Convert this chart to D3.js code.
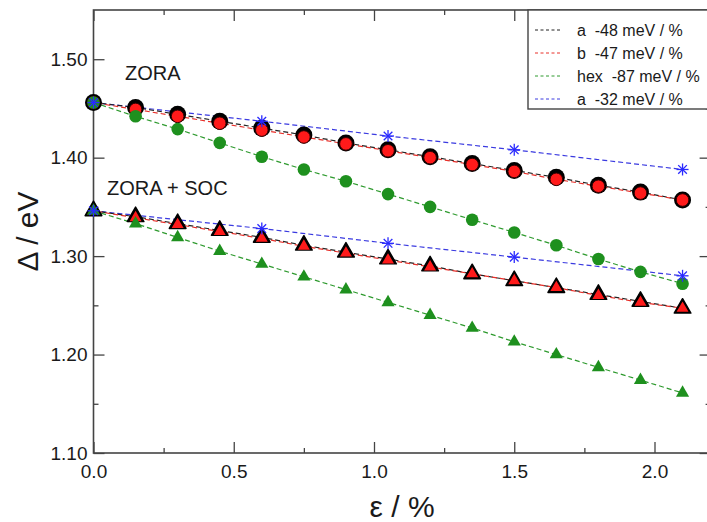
<!DOCTYPE html>
<html>
<head>
<meta charset="utf-8">
<script src="https://cdn.jsdelivr.net/npm/d3@7"></script>
<style>
  body { margin: 0; background: #fff; }
  text { font-family: "Liberation Sans", Arial, Helvetica, sans-serif; fill: #1a1a1a; }
</style>
</head>
<body>
<div id="chart"></div>
<script>
// strain values (%) for the full series
const strain = [0, 0.15, 0.3, 0.45, 0.6, 0.75, 0.9, 1.05, 1.2, 1.35, 1.5, 1.65, 1.8, 1.95, 2.1];
// strain values for the blue (a, -32) series
const starStrain = [0, 0.6, 1.05, 1.5, 2.1];

// ZORA gaps (eV)
const zoraA   = [1.456, 1.451, 1.444, 1.437, 1.430, 1.423, 1.415, 1.408, 1.401, 1.394, 1.387, 1.380, 1.372, 1.365, 1.357];
const zoraB   = [1.456, 1.449, 1.442, 1.435, 1.428, 1.421, 1.414, 1.407, 1.400, 1.393, 1.386, 1.378, 1.371, 1.364, 1.357];
const zoraHex = [1.456, 1.442, 1.429, 1.415, 1.401, 1.388, 1.376, 1.363, 1.350, 1.337, 1.324, 1.311, 1.297, 1.284, 1.272];
const zoraStar = [1.456, 1.437, 1.422, 1.408, 1.388];

// ZORA + SOC gaps (eV)
const socA   = [1.346, 1.340, 1.333, 1.326, 1.319, 1.311, 1.304, 1.297, 1.290, 1.282, 1.275, 1.268, 1.261, 1.254, 1.247];
const socB   = [1.346, 1.339, 1.332, 1.325, 1.318, 1.310, 1.303, 1.296, 1.289, 1.282, 1.275, 1.268, 1.260, 1.253, 1.247];
const socHex = [1.346, 1.333, 1.319, 1.305, 1.292, 1.279, 1.266, 1.253, 1.240, 1.227, 1.213, 1.200, 1.187, 1.174, 1.161];
const socStar = [1.346, 1.328, 1.313, 1.299, 1.280];

const legendLabels = ["a  -48 meV / %", "b  -47 meV / %", "hex  -87 meV / %", "a  -32 meV / %"];
const legendColors = ["#222222", "#e8302a", "#2e9a2e", "#3a3ae0"];

const xMajor = [0, 0.5, 1.0, 1.5, 2.0];
const xMinor = [0.25, 0.75, 1.25, 1.75];
const yMajor = [1.10, 1.20, 1.30, 1.40, 1.50];
const yMinor = [1.15, 1.25, 1.35, 1.45];

const width = 707, height = 522;
const svg = d3.select("#chart").append("svg")
    .attr("width", width)
    .attr("height", height);

const x = d3.scaleLinear().domain([0, 2.2]).range([93.5, 710.6]);
const y = d3.scaleLinear().domain([1.10, 1.55]).range([453, 10]);

const frameColor = "#444";

// axes (ticks point inward)
function styleAxis(g) {
    g.select(".domain").remove();
    g.selectAll("line").attr("stroke", frameColor).attr("stroke-width", 1.3);
    g.selectAll("text").attr("font-size", "19px").attr("fill", "#1a1a1a")
        .attr("font-family", "'Liberation Sans', Arial, sans-serif");
}

svg.append("g").attr("transform", `translate(0,${y(1.10)})`)
    .call(d3.axisBottom(x).tickValues(xMajor).tickFormat(d3.format(".1f")).tickSizeInner(-11).tickSizeOuter(0).tickPadding(12))
    .call(styleAxis);
svg.append("g").attr("transform", `translate(0,${y(1.10)})`)
    .call(d3.axisBottom(x).tickValues(xMinor).tickFormat("").tickSizeInner(-5).tickSizeOuter(0))
    .call(styleAxis);
svg.append("g").attr("transform", `translate(0,${y(1.55)})`)
    .call(d3.axisTop(x).tickValues(xMajor).tickFormat("").tickSizeInner(-11).tickSizeOuter(0))
    .call(styleAxis);
svg.append("g").attr("transform", `translate(0,${y(1.55)})`)
    .call(d3.axisTop(x).tickValues(xMinor).tickFormat("").tickSizeInner(-5).tickSizeOuter(0))
    .call(styleAxis);

svg.append("g").attr("transform", `translate(${x(0)},0)`)
    .call(d3.axisLeft(y).tickValues(yMajor).tickFormat(d3.format(".2f")).tickSizeInner(-11).tickSizeOuter(0).tickPadding(6))
    .call(styleAxis);
svg.append("g").attr("transform", `translate(${x(0)},0)`)
    .call(d3.axisLeft(y).tickValues(yMinor).tickFormat("").tickSizeInner(-5).tickSizeOuter(0))
    .call(styleAxis);
svg.append("g").attr("transform", `translate(${x(2.2)},0)`)
    .call(d3.axisRight(y).tickValues(yMajor).tickFormat("").tickSizeInner(-11).tickSizeOuter(0))
    .call(styleAxis);
svg.append("g").attr("transform", `translate(${x(2.2)},0)`)
    .call(d3.axisRight(y).tickValues(yMinor).tickFormat("").tickSizeInner(-5).tickSizeOuter(0))
    .call(styleAxis);

// frame
svg.append("rect")
    .attr("x", x(0)).attr("y", y(1.55))
    .attr("width", x(2.2) - x(0)).attr("height", y(1.10) - y(1.55))
    .attr("fill", "none").attr("stroke", frameColor).attr("stroke-width", 1.6);

// axis titles
svg.append("text")
    .attr("transform", `translate(38,${(y(1.10) + y(1.55)) / 2}) rotate(-90)`)
    .attr("text-anchor", "middle")
    .attr("font-size", "30px")
    .text("Δ / eV");
svg.append("text")
    .attr("x", (x(0) + x(2.2)) / 2)
    .attr("y", 517)
    .attr("text-anchor", "middle")
    .attr("font-size", "30px")
    .text("ε / %");

// group labels
svg.append("text").attr("x", 125).attr("y", 80).attr("font-size", "20px").text("ZORA");
svg.append("text").attr("x", 107).attr("y", 195).attr("font-size", "20px").text("ZORA + SOC");

const plot = svg.append("g");

function dashed(xs, ys, color, offset) {
    const pts = xs.map((d, i) => [d, ys[i]]);
    plot.append("path")
        .datum(pts)
        .attr("d", d3.line().x(d => x(d[0])).y(d => y(d[1])))
        .attr("fill", "none")
        .attr("stroke", color)
        .attr("stroke-width", 1.2)
        .attr("stroke-dasharray", "5,3")
        .attr("stroke-dashoffset", offset || 0);
}

dashed(strain, zoraHex, legendColors[2]);
dashed(strain, socHex, legendColors[2]);
dashed(starStrain, zoraStar, legendColors[3]);
dashed(starStrain, socStar, legendColors[3]);
dashed(strain, zoraA, legendColors[0]);
dashed(strain, socA, legendColors[0]);
dashed(strain, zoraB, legendColors[1], 4);
dashed(strain, socB, legendColors[1], 4);

function circles(xs, ys, r, fill, stroke, sw) {
    plot.append("g").selectAll("circle")
        .data(xs.map((d, i) => [d, ys[i]]))
        .join("circle")
        .attr("cx", d => x(d[0]))
        .attr("cy", d => y(d[1]))
        .attr("r", r)
        .attr("fill", fill)
        .attr("stroke", stroke || "none")
        .attr("stroke-width", sw || 0);
}

function triangles(xs, ys, size, fill, stroke, sw) {
    const sym = d3.symbol().type(d3.symbolTriangle).size(size);
    plot.append("g").selectAll("path")
        .data(xs.map((d, i) => [d, ys[i]]))
        .join("path")
        .attr("transform", d => `translate(${x(d[0])},${y(d[1])})`)
        .attr("d", sym)
        .attr("fill", fill)
        .attr("stroke", stroke || "none")
        .attr("stroke-width", sw || 0)
        .attr("stroke-linejoin", "round");
}

function stars(xs, ys, color) {
    const s = 6;
    const g = plot.append("g").selectAll("g")
        .data(xs.map((d, i) => [d, ys[i]]))
        .join("g")
        .attr("transform", d => `translate(${x(d[0])},${y(d[1])})`);
    const arms = [[-s, 0, s, 0], [0, -s, 0, s], [-s * 0.72, -s * 0.72, s * 0.72, s * 0.72], [-s * 0.72, s * 0.72, s * 0.72, -s * 0.72]];
    arms.forEach(a => {
        g.append("line")
            .attr("x1", a[0]).attr("y1", a[1]).attr("x2", a[2]).attr("y2", a[3])
            .attr("stroke", color).attr("stroke-width", 1.3);
    });
}

// ZORA markers
circles(strain, zoraA, 8.5, "#000");
circles(strain, zoraB, 6.3, "#ff1a1a", "#300", 1);
circles(strain, zoraHex, 6.3, "#1e901e");
stars(starStrain, zoraStar, "#2a2aff");

// ZORA + SOC markers
triangles(strain, socA, 120, "#000", "#000", 1.5);
triangles(strain, socB, 62, "#ff1a1a");
triangles(strain, socHex, 75, "#1e901e");
stars(starStrain, socStar, "#2a2aff");

// legend
const legend = svg.append("g");
legend.append("rect")
    .attr("x", 528).attr("y", y(1.55))
    .attr("width", 200).attr("height", 99)
    .attr("fill", "#fff").attr("stroke", frameColor).attr("stroke-width", 1.4);

legendLabels.forEach((label, i) => {
    const cy = 30 + i * 23;
    legend.append("line")
        .attr("x1", 535).attr("x2", 560)
        .attr("y1", cy).attr("y2", cy)
        .attr("stroke", legendColors[i])
        .attr("stroke-width", 1)
        .attr("stroke-dasharray", "3,2.5");
    legend.append("text")
        .attr("x", 577).attr("y", cy + 6)
        .attr("font-size", "16px")
        .style("white-space", "pre")
        .text(label);
});
</script>
</body>
</html>
